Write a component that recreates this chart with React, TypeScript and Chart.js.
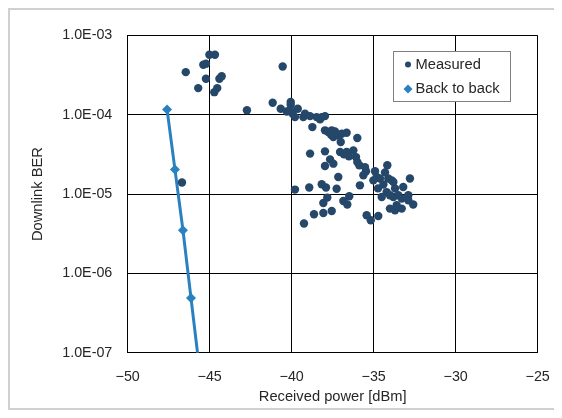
import { useEffect, useRef } from 'react';
import { Chart, registerables } from 'chart.js';

Chart.register(...registerables);

// Measured downlink BER versus received optical power
const measuredPower = [
  -45.02, -44.68, -45.39, -45.23, -46.46, -45.23, -44.41, -44.27, -45.7, -44.54,
  -44.72, -46.69, -40.55, -42.73, -41.16, -40.67, -40.06, -40.06, -40.3, -40.1,
  -39.94, -39.8, -39.63, -39.29, -39.19, -38.88, -38.48, -38.27, -38.17, -37.97,
  -38.74, -37.97, -37.77, -37.56, -37.36, -37.6, -37.46, -37.16, -36.95, -36.65,
  -37.01, -36.0, -38.88, -37.97, -37.05, -36.65, -36.24, -36.08, -36.0, -35.88,
  -37.66, -37.46, -37.97, -35.53, -35.63, -34.17, -34.92, -34.82, -35.02, -34.62,
  -34.41, -34.11, -33.9, -33.8, -32.79, -35.84, -33.2, -34.21, -34.01, -33.8,
  -33.5, -33.29, -32.89, -32.89, -32.59, -34.51, -36.49, -34.01, -33.7, -33.29,
  -33.6, -35.43, -34.72, -35.18, -37.16, -39.8, -38.93, -38.17, -37.91, -37.26,
  -37.83, -38.07, -36.85, -36.61, -38.64, -38.07, -37.56, -39.25, -36.81, -36.51,
  -35.47, -34.31, -34.74, -33.7,
];
const measuredBer = [
  5.71e-4, 5.71e-4, 4.28e-4, 4.4e-4, 3.45e-4, 2.85e-4, 2.85e-4, 3.07e-4, 2.17e-4, 2.17e-4,
  1.93e-4, 1.4e-5, 4.07e-4, 1.14e-4, 1.42e-4, 1.19e-4, 1.45e-4, 1.34e-4, 1.1e-4, 1.14e-4,
  1.03e-4, 9.35e-5, 1.19e-4, 9.35e-5, 1.03e-4, 9.63e-5, 9.35e-5, 8.75e-5, 9.35e-5, 9.63e-5,
  7.0e-5, 6.37e-5, 6.05e-5, 6.37e-5, 6.18e-5, 5.61e-5, 5.24e-5, 5.5e-5, 5.78e-5, 5.95e-5,
  4.53e-5, 5.09e-5, 3.24e-5, 3.46e-5, 3.39e-5, 3.39e-5, 3.56e-5, 2.93e-5, 2.54e-5, 2.31e-5,
  2.74e-5, 2.42e-5, 2.26e-5, 2.19e-5, 1.73e-5, 2.31e-5, 1.94e-5, 1.64e-5, 1.49e-5, 1.57e-5,
  1.32e-5, 1.57e-5, 1.49e-5, 1.42e-5, 1.57e-5, 1.29e-5, 1.23e-5, 1.06e-5, 9.66e-6, 9.19e-6,
  9.66e-6, 8.77e-6, 9.66e-6, 8.35e-6, 7.38e-6, 9.19e-6, 9.38e-6, 6.56e-6, 6.25e-6, 6.56e-6,
  7.23e-6, 5.41e-6, 5.3e-6, 4.68e-6, 1.64e-5, 1.14e-5, 1.21e-5, 1.33e-5, 1.21e-5, 1.17e-5,
  9.04e-6, 7.73e-6, 8.19e-6, 7.38e-6, 5.57e-6, 5.78e-6, 6.12e-6, 4.25e-6, 3.17e-5, 2.99e-5,
  1.94e-5, 1.88e-5, 1.18e-5, 1.18e-5,
];

// Back-to-back reference curve
const backToBackPower = [-47.6, -47.12, -46.63, -46.14, -45.65];
const backToBackBer = [1.17e-4, 2.05e-5, 3.5e-6, 4.88e-7, 6.9e-8];

// Axis ticks
const powerTicks = [-50, -45, -40, -35, -30, -25];
const berTicks = [1e-7, 1e-6, 1e-5, 1e-4, 1e-3];
const berTickLabels = ['1.0E-07', '1.0E-06', '1.0E-05', '1.0E-04', '1.0E-03'];

const seriesNames = ['Measured', 'Back to back'];
const measuredColor = '#25476a';
const backToBackColor = '#2a81c0';
const textColor = '#262626';
const fontFamily = '"Liberation Sans", Arial, Helvetica, sans-serif';

// Boxed legend drawn inside the plot area, near its upper right corner
const insetLegend = {
  id: 'insetLegend',
  afterDraw(chart: any) {
    const { ctx, chartArea } = chart;
    const w = 117;
    const h = 50;
    const x = Math.round(chartArea.right - 144.4);
    const y = Math.round(chartArea.top + 15);
    ctx.save();
    ctx.fillStyle = '#ffffff';
    ctx.fillRect(x, y, w, h);
    ctx.strokeStyle = '#808080';
    ctx.lineWidth = 1;
    ctx.strokeRect(x + 0.5, y + 0.5, w, h);

    const mx = x + 15;
    const tx = x + 22.5;
    const row1 = y + 13.5;
    const row2 = y + 38;

    ctx.fillStyle = measuredColor;
    ctx.beginPath();
    ctx.arc(mx, row1, 3, 0, Math.PI * 2);
    ctx.fill();

    ctx.fillStyle = backToBackColor;
    ctx.beginPath();
    ctx.moveTo(mx - 4.5, row2);
    ctx.lineTo(mx, row2 - 4.5);
    ctx.lineTo(mx + 4.5, row2);
    ctx.lineTo(mx, row2 + 4.5);
    ctx.closePath();
    ctx.fill();

    ctx.fillStyle = textColor;
    ctx.font = `14.7px ${fontFamily}`;
    ctx.textBaseline = 'middle';
    ctx.textAlign = 'left';
    ctx.fillText(chart.data.datasets[0].label, tx, row1);
    ctx.fillText(chart.data.datasets[1].label, tx, row2);
    ctx.restore();
  },
};

export default function App() {
  const canvasRef = useRef<HTMLCanvasElement | null>(null);

  useEffect(() => {
    const canvas = canvasRef.current;
    if (!canvas) return;
    const tickFont = { family: fontFamily, size: 14.3 };
    const titleFont = { family: fontFamily, size: 14.7 };

    const chart = new Chart(canvas, {
      type: 'scatter',
      data: {
        datasets: [
          {
            label: seriesNames[0],
            data: measuredPower.map((p, i) => ({ x: p, y: measuredBer[i] })),
            showLine: false,
            pointStyle: 'circle',
            pointRadius: 4.2,
            pointBorderWidth: 0,
            backgroundColor: measuredColor,
            borderColor: measuredColor,
          },
          {
            label: seriesNames[1],
            data: backToBackPower.map((p, i) => ({ x: p, y: backToBackBer[i] })),
            showLine: true,
            borderColor: backToBackColor,
            backgroundColor: backToBackColor,
            borderWidth: 3,
            pointStyle: 'rectRot',
            pointRadius: 5,
            pointBorderWidth: 0,
            tension: 0,
          },
        ],
      },
      options: {
        responsive: false,
        animation: false,
        devicePixelRatio: 1,
        layout: { padding: { top: 25.5, right: 16.3, left: 0, bottom: 0 } },
        plugins: {
          legend: { display: false },
          tooltip: { enabled: false },
        },
        scales: {
          x: {
            type: 'linear',
            min: -50,
            max: -25,
            afterBuildTicks: (scale: any) => {
              scale.ticks = powerTicks.map((v) => ({ value: v }));
            },
            afterFit: (scale: any) => {
              scale.height = 55.3;
              scale.paddingLeft = 0;
              scale.paddingRight = 0;
            },
            grid: { color: '#000000', lineWidth: 1, drawTicks: false },
            border: { color: '#000000', width: 1 },
            ticks: {
              padding: 15.4,
              color: textColor,
              font: tickFont,
              callback: (v: any) => (Number(v) < 0 ? '\u2212' + Math.abs(Number(v)) : String(v)),
            },
            title: {
              display: true,
              text: 'Received power [dBm]',
              color: textColor,
              font: titleFont,
              padding: { top: 0, bottom: 1.9 },
            },
          },
          y: {
            type: 'logarithmic',
            min: 1e-7,
            max: 1e-3,
            afterBuildTicks: (scale: any) => {
              scale.ticks = berTicks.map((v) => ({ value: v }));
            },
            afterFit: (scale: any) => {
              scale.width = 117.7;
              scale.paddingTop = 0;
              scale.paddingBottom = 0;
            },
            grid: { color: '#000000', lineWidth: 1, drawTicks: false },
            border: { color: '#000000', width: 1 },
            ticks: {
              padding: 15.4,
              color: textColor,
              font: tickFont,
              autoSkip: false,
              callback: (v: any) => {
                const idx = berTicks.findIndex((t) => Math.abs(Math.log10(t) - Math.log10(Number(v))) < 1e-6);
                return idx >= 0 ? berTickLabels[idx] : '';
              },
            },
            title: {
              display: true,
              text: 'Downlink BER',
              color: textColor,
              font: titleFont,
              padding: { top: 19.5, bottom: 0 },
            },
          },
        },
      },
      plugins: [insetLegend],
    });

    return () => chart.destroy();
  }, []);

  return (
    <div
      style={{
        width: 544,
        height: 398,
        border: '2px solid #d0d0d0',
        background: '#ffffff',
      }}
    >
      <canvas ref={canvasRef} width={544} height={398} style={{ display: 'block' }} />
    </div>
  );
}
